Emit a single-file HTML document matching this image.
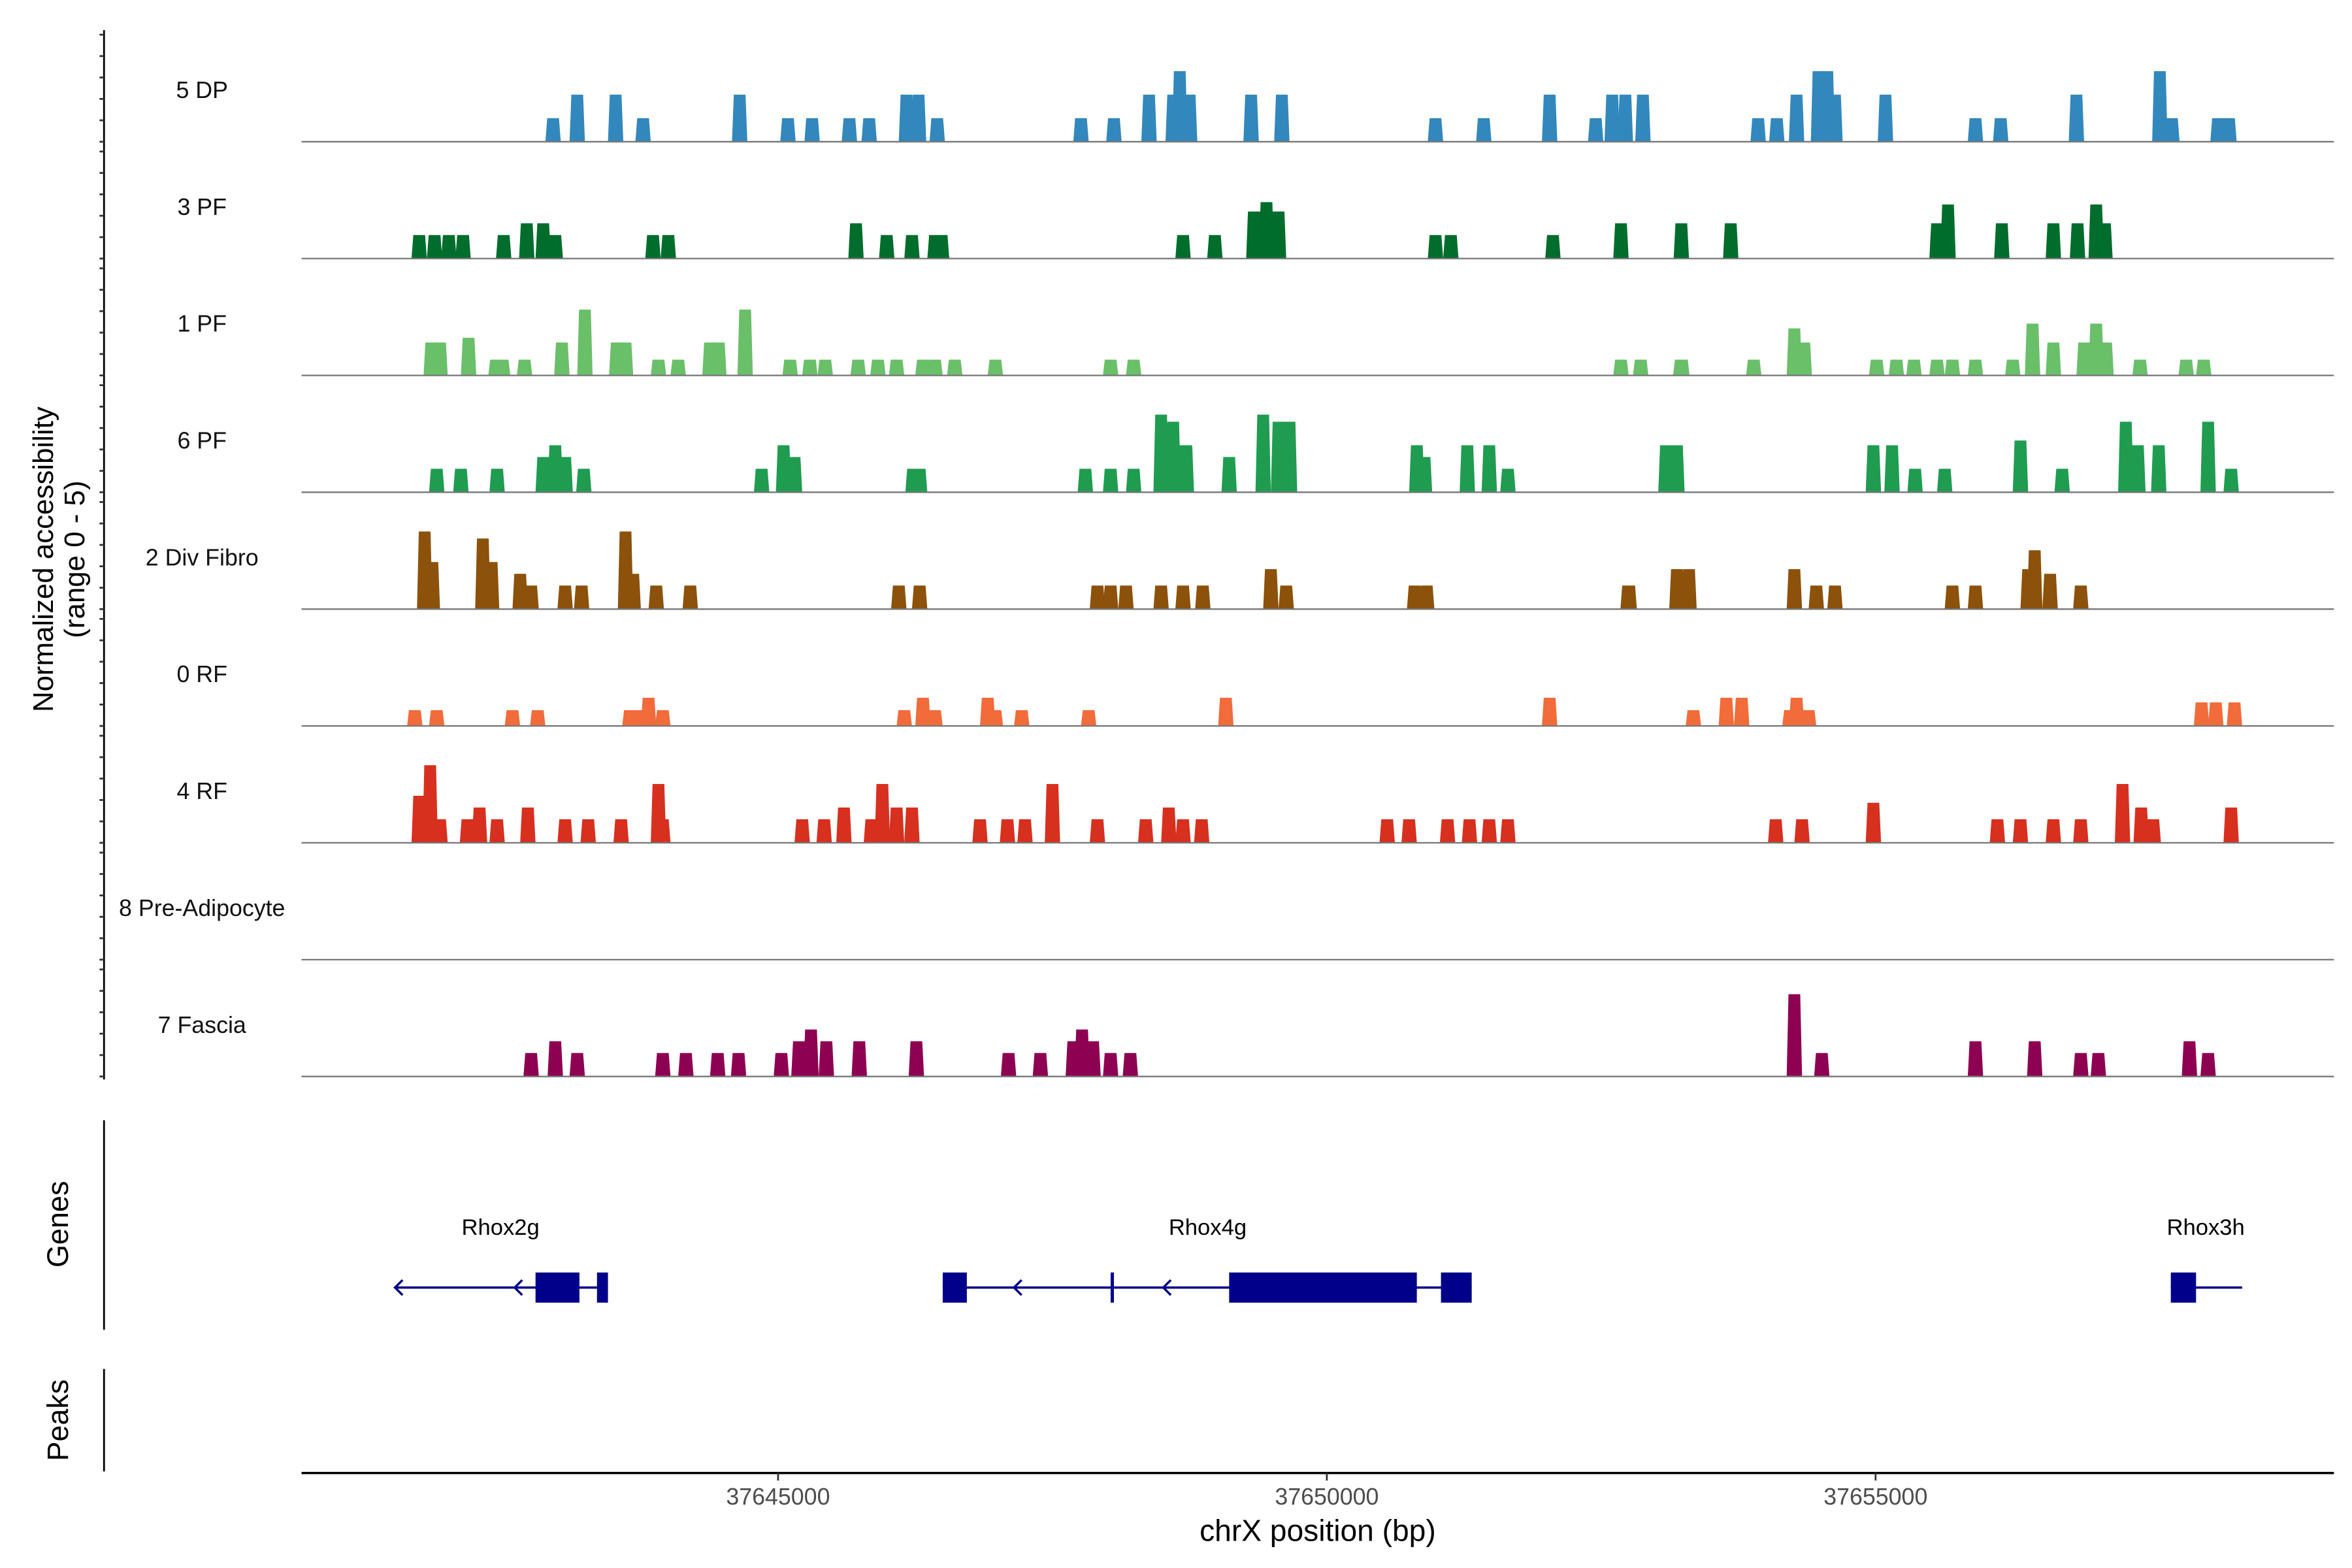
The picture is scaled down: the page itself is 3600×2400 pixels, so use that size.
<!DOCTYPE html>
<html><head><meta charset="utf-8"><style>
html,body{margin:0;padding:0;background:#fff;}
svg{display:block;font-family:"Liberation Sans",Arial,sans-serif;}
</style></head><body>
<svg id="chart" width="3600" height="2400" viewBox="0 0 1560 1040" xmlns="http://www.w3.org/2000/svg">
<g id="axes"></g>
<g id="tracks"></g>
<g id="genes"></g>
</svg>
<script>
const trackNames = ["5 DP","3 PF","1 PF","6 PF","2 Div Fibro","0 RF","4 RF","8 Pre-Adipocyte","7 Fascia"];
const trackColors = ["#3288bd","#006d2c","#6abf69","#1f9c50","#8c510a","#f26b3a","#d7301f","#888888","#8e0152"];
// peaks: [position (kb offset from 37640 kb), height (normalized), optional width kb]
const peaks5DP = [[2.95,1],[3.17,2],[3.52,2],[3.77,1],[4.65,2],[5.09,1],[5.31,1],[5.65,1],[5.83,1],[6.17,2],[6.28,2],[6.45,1],[7.76,1],[8.06,1],[8.38,2],[8.6,2],[8.66,3],[8.75,2],[9.31,2],[9.59,2],[10.99,1],[11.43,1],[12.03,2],[12.45,1],[12.6,2],[12.72,2],[12.88,2],[13.93,1],[14.1,1],[14.28,2],[14.48,3],[14.56,3],[14.63,2],[15.09,2],[15.91,1],[16.14,1],[16.83,2],[17.59,3],[17.7,1],[18.12,1],[18.22,1]];
const peaks3PF = [[1.73,1],[1.87,1],[2.0,1],[2.13,1],[2.5,1],[2.71,1.5],[2.86,1.5],[2.97,1],[3.86,1],[4.0,1],[5.71,1.5],[5.99,1],[6.22,1],[6.46,1,0.2],[8.69,1],[8.98,1],[9.34,2,0.15],[9.45,2.4],[9.56,2],[10.99,1],[11.13,1],[12.06,1],[12.68,1.5],[13.23,1.5],[13.68,1.5],[15.56,1.5],[15.66,2.3],[16.15,1.5],[16.62,1.5],[16.84,1.5],[17.01,2.3],[17.09,1.5]];
const peaks1PF = [[1.84,1.4],[1.92,1.4],[2.18,1.6],[2.46,0.67,0.2],[2.69,0.67],[3.03,1.4],[3.24,2.8],[3.53,1.4],[3.61,1.4],[3.91,0.67],[4.09,0.67],[4.38,1.4],[4.46,1.4],[4.7,2.8],[5.11,0.67],[5.29,0.67],[5.43,0.67],[5.73,0.67],[5.91,0.67],[6.08,0.67],[6.32,0.67],[6.43,0.67],[6.61,0.67],[6.98,0.67],[8.03,0.67],[8.24,0.67],[12.68,0.67],[12.86,0.67],[13.23,0.67,0.15],[13.89,0.67],[14.26,2],[14.35,1.4],[15.01,0.67],[15.19,0.67],[15.35,0.67],[15.56,0.67],[15.7,0.67],[15.91,0.67],[16.25,0.67],[16.43,2.2],[16.62,1.4],[16.9,1.4],[17.01,2.2],[17.1,1.4],[17.41,0.67],[17.83,0.67],[17.99,0.67]];
const peaks6PF = [[1.89,1],[2.11,1],[2.44,1],[2.86,1.5],[2.97,2],[3.06,1.5],[3.23,1],[4.85,1],[5.05,2],[5.15,1.5],[6.26,1,0.2],[7.8,1],[8.03,1],[8.24,1],[8.49,3.3],[8.6,3],[8.69,2,0.2],[9.11,1.5],[9.42,3.3],[9.56,3],[9.66,3],[10.82,2],[10.89,1.5],[11.28,2],[11.48,2],[11.65,1],[13.09,2],[13.19,2],[14.98,2],[15.15,2],[15.36,1],[15.63,1],[16.32,2.2],[16.7,1],[17.28,3],[17.39,2],[17.58,2],[18.03,3],[18.24,1]];
const peaks2Div = [[1.78,3.3],[1.85,2],[2.31,3],[2.39,2],[2.65,1.5],[2.75,1],[3.06,1],[3.21,1],[3.61,3.3],[3.68,1.5],[3.89,1],[4.2,1],[6.1,1],[6.29,1],[7.91,1],[8.03,1],[8.17,1],[8.49,1],[8.69,1],[8.87,1],[9.49,1.7],[9.63,1],[10.8,1],[10.91,1],[12.75,1,0.15],[13.19,1.7],[13.3,1.7],[14.26,1.7],[14.46,1],[14.63,1],[15.7,1],[15.91,1],[16.39,1.7],[16.45,2.5],[16.59,1.5],[16.87,1]];
const peaks0RF = [[1.69,0.67],[1.89,0.67],[2.58,0.67],[2.81,0.67],[3.68,0.67,0.2],[3.82,1.2],[3.95,0.67],[6.15,0.67],[6.32,1.2],[6.43,0.67],[6.91,1.2],[6.98,0.67],[7.22,0.67],[7.83,0.67],[9.08,1.2],[12.03,1.2],[13.34,0.67],[13.64,1.2],[13.78,1.2],[14.22,0.67],[14.28,1.2],[14.39,0.67],[17.97,1],[18.1,1],[18.27,1]];
const peaks4RF = [[1.73,2],[1.83,3.3],[1.92,1],[2.17,1],[2.28,1.5],[2.44,1],[2.72,1.5],[3.06,1],[3.27,1],[3.57,1],[3.91,2.5],[3.95,1],[5.22,1],[5.42,1],[5.6,1.5],[5.85,1],[5.95,2.5],[6.08,1.5],[6.22,1.5],[6.84,1],[7.09,1],[7.25,1],[7.5,2.5],[7.91,1],[8.35,1],[8.56,1.5],[8.69,1],[8.86,1],[10.55,1],[10.75,1],[11.1,1],[11.3,1],[11.48,1],[11.65,1],[14.09,1],[14.33,1],[14.98,1.7],[16.11,1],[16.32,1],[16.62,1],[16.87,1],[17.25,2.5],[17.42,1.5],[17.53,1],[18.24,1.5]];
const peaks8Pre = [];
const peaks7Fas = [[2.75,1],[2.97,1.5],[3.17,1],[3.95,1],[4.16,1],[4.45,1],[4.64,1],[5.03,1],[5.19,1.5],[5.3,2],[5.44,1.5],[5.74,1.5],[6.26,1.5],[7.1,1],[7.39,1],[7.69,1.5],[7.77,2],[7.87,1.5],[8.03,1],[8.21,1],[14.26,3.5],[14.51,1],[15.91,1.5],[16.45,1.5],[16.87,1],[17.03,1],[17.86,1.5],[18.03,1]];
const trackPeaks = [peaks5DP,peaks3PF,peaks1PF,peaks6PF,peaks2Div,peaks0RF,peaks4RF,peaks8Pre,peaks7Fas];
const xTicks = [37645000,37650000,37655000];
const xTickLabels = ["37645000","37650000","37655000"];
const geneNames = ["Rhox2g","Rhox4g","Rhox3h"];
const geneSpans = [[1.51,3.45],[6.5,11.32],[17.69,18.34]];
const geneExons = [[[2.79,3.19],[3.35,3.45]],[[6.5,6.72],[8.03,8.06],[9.11,10.82],[11.04,11.32]],[[17.69,17.92]]];
const geneArrows = [[1.51,2.6],[7.15,8.51],[]];

const NS="http://www.w3.org/2000/svg";
const X0=200,X1=1548,BP0=37640658,BP1=37659176;
function xs(bp){return X0+(bp-BP0)/(BP1-BP0)*(X1-X0);}
function xk(kb){return xs(37640000+kb*1000);}
const UNIT=15.6;
function ys(base,v){return base-v*UNIT;}
function mk(tag,attrs,parent){const e=document.createElementNS(NS,tag);for(const k in attrs)e.setAttribute(k,attrs[k]);parent.appendChild(e);return e;}
const axes=document.getElementById('axes'),tracks=document.getElementById('tracks'),genes=document.getElementById('genes');
const baselines=[94,171.5,249,326.5,404,481.5,559,636.5,714];

let l=mk('line',{x1:69,y1:20,x2:69,y2:716,stroke:'#000','stroke-width':1.2},axes);


baselines.forEach(b=>{for(let k=0;k<=5;k++){const t=mk('line',{x1:66,x2:69,y1:b-k*14.2,y2:b-k*14.2,stroke:'#333','stroke-width':1.2},axes);

}});
let yt=mk('text',{transform:'translate(35,371) rotate(-90)','text-anchor':'middle','font-size':19},axes);


yt.textContent='Normalized accessibility';
let yt2=mk('text',{transform:'translate(56,371) rotate(-90)','text-anchor':'middle','font-size':19},axes);


yt2.textContent='(range 0 - 5)';

trackNames.forEach((nm,i)=>{
  const b=baselines[i];
  const g=mk('g',{},tracks);
  
  
  const lab=mk('text',{x:134,y:b-29,'text-anchor':'middle','font-size':15.5,fill:'#111'},g);
  
  
  lab.textContent=nm;
  trackPeaks[i].forEach(p=>{
    const w=p[2]||0.14;
    const xa=xk(p[0]-w/2),xb=xk(p[0]+w/2),yt=ys(b,p[1]);
    const inset=Math.min(1.2,(xb-xa)*0.2);
    const poly=mk('polygon',{points:`${xa},${b} ${xa+inset},${yt} ${xb-inset},${yt} ${xb},${b}`,fill:trackColors[i]},g);
    
    
  });
  const bl=mk('line',{x1:X0,x2:X1,y1:b,y2:b,stroke:'#777','stroke-width':1},g);
  
  
});

let gl=mk('line',{x1:69,x2:69,y1:743,y2:882,stroke:'#000','stroke-width':1.2},axes);


let gtt=mk('text',{transform:'translate(45,812) rotate(-90)','text-anchor':'middle','font-size':19.5},axes);


gtt.textContent='Genes';
let pl=mk('line',{x1:69,x2:69,y1:908,y2:976,stroke:'#000','stroke-width':1.2},axes);


let ptt=mk('text',{transform:'translate(45,942) rotate(-90)','text-anchor':'middle','font-size':19.5},axes);


ptt.textContent='Peaks';

const GY=854,GC='#00008b';
const labelX=[332,801,1463];
geneNames.forEach((nm,i)=>{
  const g=mk('g',{},genes);
  
  
  const s=geneSpans[i];
  mk('line',{x1:xk(s[0]),x2:xk(s[1]),y1:GY,y2:GY,stroke:GC,'stroke-width':1.5},g);
  geneExons[i].forEach(e=>{
    const r=mk('rect',{x:xk(e[0]),y:GY-10,width:Math.max(2,xk(e[1])-xk(e[0])),height:20,fill:GC},g);
    
    
  });
  geneArrows[i].forEach(a=>{
    const x=xk(a);
    const ar=mk('polyline',{points:`${x+5},${GY-5} ${x},${GY} ${x+5},${GY+5}`,fill:'none',stroke:GC,'stroke-width':1.5},g);
    
    
  });
  const t=mk('text',{x:labelX[i],y:819,'text-anchor':'middle','font-size':15,fill:'#000'},g);
  
  
  t.textContent=nm;
});

let xl=mk('line',{x1:X0,x2:X1,y1:977,y2:977,stroke:'#000','stroke-width':1.5},axes);


xTicks.forEach((v,i)=>{
  const x=xs(v);
  const t=mk('line',{x1:x,x2:x,y1:977,y2:982,stroke:'#333','stroke-width':1.2},axes);
  
  
  const tx=mk('text',{x:x,y:998,'text-anchor':'middle','font-size':15.5,fill:'#4d4d4d'},axes);
  
  
  tx.textContent=xTickLabels[i];
});
let xt=mk('text',{x:874,y:1022,'text-anchor':'middle','font-size':20,fill:'#000'},axes);


xt.textContent='chrX position (bp)';
</script>
</body></html>
